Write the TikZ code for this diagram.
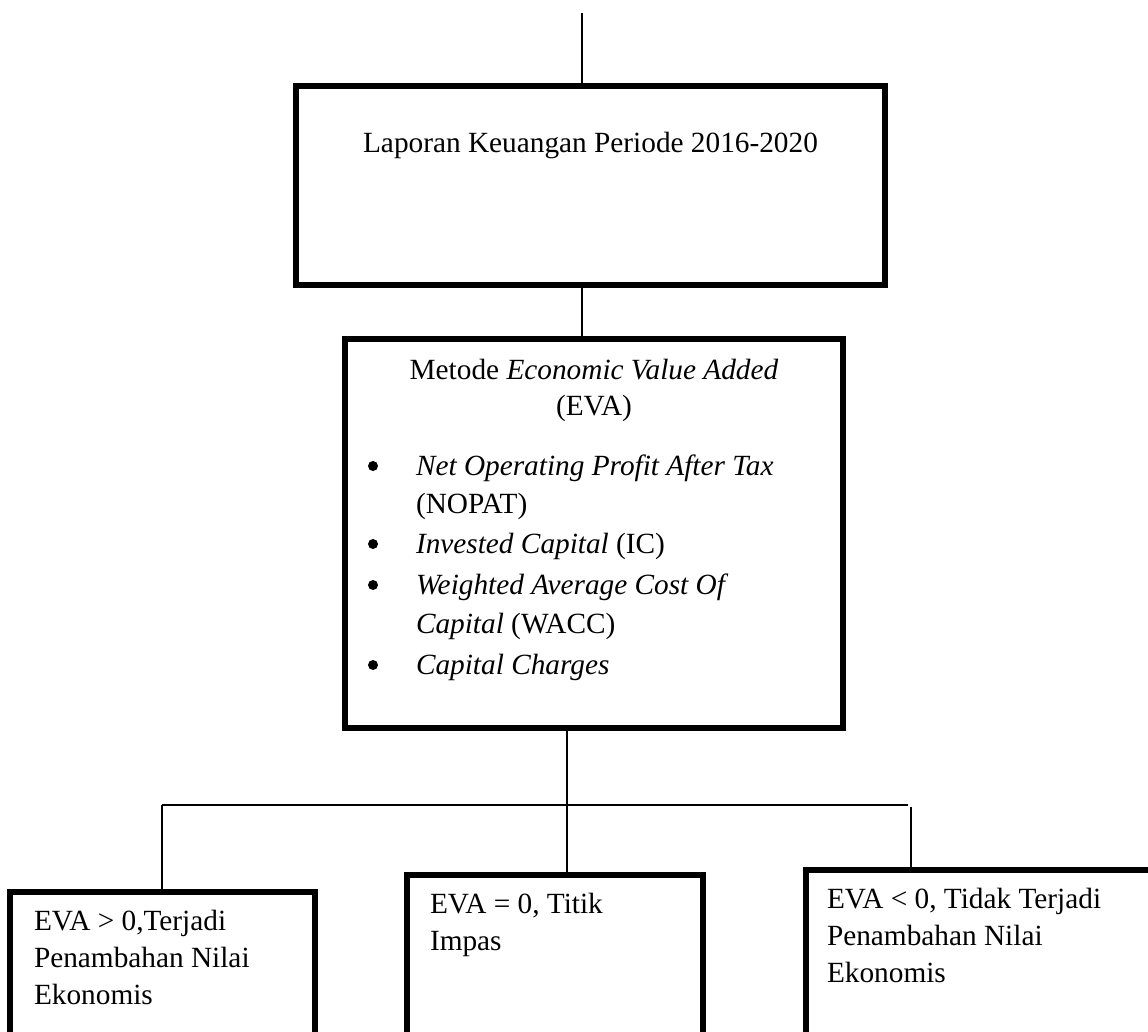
\documentclass[tikz,border=0pt]{standalone}
\usepackage{fontspec}
\setmainfont{Liberation Serif}
\begin{document}
\begin{tikzpicture}[x=1pt,y=-1pt,
  box/.style={draw, line width=5.5pt, inner sep=0pt, outer sep=0pt, rectangle},
  conn/.style={draw, line width=1.8pt},
  txt/.style={inner sep=0pt, outer sep=0pt, font=\fontsize{29.3}{35}\selectfont},
  lt/.style={txt, anchor=base west},
  ct/.style={txt, anchor=base},
  bul/.style={circle, fill=black, inner sep=0pt, minimum size=10pt},
]
\useasboundingbox (0,0) rectangle (1148,1032);
\clip (0,0) rectangle (1148,1032);
\fill[white] (0,0) rectangle (1148,1032);

% boxes
\node[box, minimum width=589pt, minimum height=199pt] (lap) at (590.5,185.5) {};
\node[box, minimum width=498pt, minimum height=389pt] (eva) at (594,533.5) {};
\node[box, minimum width=305pt, minimum height=208pt] (pos) at (162.5,996) {};
\node[box, minimum width=296pt, minimum height=225pt] (mid) at (555,987.5) {};
\node[box, minimum width=364pt, minimum height=230pt] (neg) at (988,985) {};

% texts
\node[ct] (t1) at (590.5,153) {Laporan Keuangan Periode 2016-2020};
\node[ct] (t2) at (594,379) {Metode \textit{Economic Value Added}};
\node[ct] (t3) at (594,415) {(EVA)};
\node[bul] (b1) at (373,466) {};
\node[bul] (b2) at (373,544) {};
\node[bul] (b3) at (373,585) {};
\node[bul] (b4) at (373,665) {};
\node[lt] (i1) at (416,475) {\textit{Net Operating Profit After Tax}};
\node[lt] (i2) at (416,513) {(NOPAT)};
\node[lt] (i3) at (416,553) {\textit{Invested Capital} (IC)};
\node[lt] (i4) at (416,594) {\textit{Weighted Average Cost Of}};
\node[lt] (i5) at (416,633) {\textit{Capital} (WACC)};
\node[lt] (i6) at (416,674) {\textit{Capital Charges}};

\node[lt] (p1) at (34,930) {EVA > 0,Terjadi};
\node[lt] (p2) at (34,967) {Penambahan Nilai};
\node[lt] (p3) at (34,1004) {Ekonomis};

\node[lt] (m1) at (430,913) {EVA = 0, Titik};
\node[lt] (m2) at (430,950) {Impas};

\node[lt] (n1) at (827,908) {EVA < 0, Tidak Terjadi};
\node[lt] (n2) at (827,945) {Penambahan Nilai};
\node[lt] (n3) at (827,982) {Ekonomis};

% connectors
\coordinate (topend) at (582,13);
\coordinate (split) at (567,805);
\coordinate (hl) at (162,805);
\coordinate (hr) at (908,805);
\coordinate (rtop) at (911,807);
\draw[conn] (topend) -- (topend |- lap.north);
\draw[conn] (lap.south -| topend) -- (eva.north -| topend);
\draw[conn] (eva.south -| split) -- (mid.north -| split);
\draw[conn] (hl) -- (hr);
\draw[conn] (hl) -- (pos.north -| hl);
\draw[conn] (rtop) -- (neg.north -| rtop);
\end{tikzpicture}
\end{document}
